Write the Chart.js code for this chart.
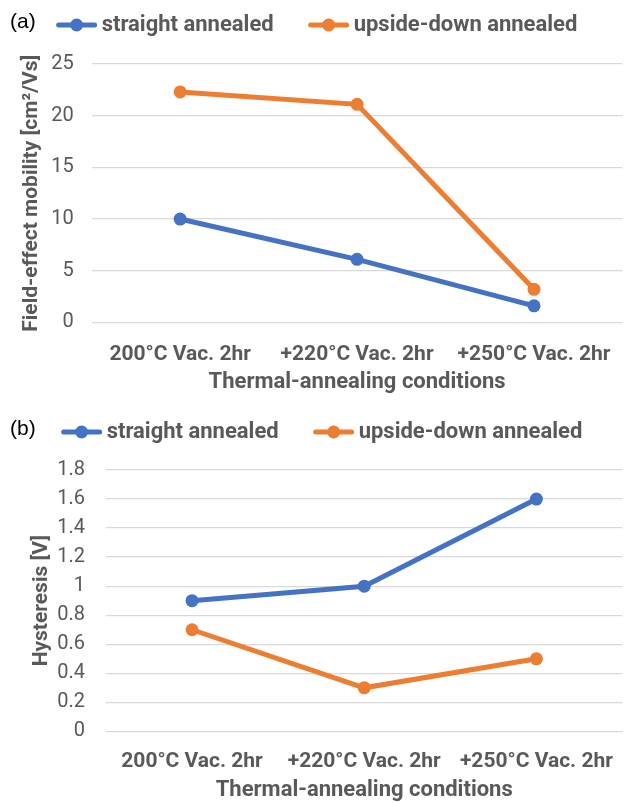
<!DOCTYPE html>
<html>
<head>
<meta charset="utf-8">
<script src="https://cdn.jsdelivr.net/npm/chart.js@4/dist/chart.umd.min.js"></script>
<style>
  html, body { margin: 0; padding: 0; background: #fff; }
  body { width: 629px; height: 803px; position: relative; overflow: hidden; }
  .box { position: absolute; left: 0; width: 629px; }
  .tag { position: absolute; left: 10px; font: 21px "Liberation Sans", Arial, sans-serif; color: #000; }
</style>
</head>
<body>
<div class="box" style="top:0; height:402px;"><canvas id="chartA"></canvas></div>
<div class="box" style="top:402px; height:401px;"><canvas id="chartB"></canvas></div>
<div class="tag" style="top:9px;">(a)</div>
<div class="tag" style="top:416px;">(b)</div>
<script>
// categories shared by both panels
const conditions = ["200°C Vac. 2hr", "+220°C Vac. 2hr", "+250°C Vac. 2hr"];
const seriesNames = ["straight annealed", "upside-down annealed"];

// (a) field-effect mobility [cm2/Vs]
const mobilityStraight = [10.0, 6.1, 1.6];
const mobilityUpside = [22.3, 21.1, 3.2];

// (b) hysteresis [V]
const hysteresisStraight = [0.9, 1.0, 1.6];
const hysteresisUpside = [0.7, 0.3, 0.5];

const BLUE = "#4472C4";
const ORANGE = "#ED7D31";
const GREY = "#595959";
const GRID = "#D9D9D9";
const FONT = "Roboto, 'Liberation Sans', sans-serif";

// excel-style legend marker: short thick line with a dot in the middle
const legendMarks = {
  id: "legendMarks",
  afterDraw(chart) {
    const lg = chart.legend;
    if (!lg || !lg.legendHitBoxes) return;
    const ctx = chart.ctx;
    lg.legendHitBoxes.forEach((hb, i) => {
      const col = chart.data.datasets[i].borderColor;
      const y = hb.top + hb.height / 2;
      ctx.save();
      ctx.strokeStyle = col;
      ctx.fillStyle = col;
      ctx.lineWidth = 5;
      ctx.lineCap = "round";
      ctx.beginPath();
      ctx.moveTo(hb.left + 2, y);
      ctx.lineTo(hb.left + 38, y);
      ctx.stroke();
      ctx.beginPath();
      ctx.arc(hb.left + 20, y, 6.5, 0, Math.PI * 2);
      ctx.fill();
      ctx.restore();
    });
  },
};

function makeChart(id, straight, upside, yTitle, yMax, step, o) {
  new Chart(document.getElementById(id), {
    type: "line",
    data: {
      labels: conditions,
      datasets: [
        { label: seriesNames[0], data: straight, borderColor: BLUE, backgroundColor: BLUE },
        { label: seriesNames[1], data: upside, borderColor: ORANGE, backgroundColor: ORANGE },
      ],
    },
    options: {
      responsive: true,
      maintainAspectRatio: false,
      animation: false,
      layout: { padding: o.pad },
      elements: {
        line: { borderWidth: 5, tension: 0 },
        point: { radius: 6.5, hoverRadius: 6.5, borderWidth: 0 },
      },
      plugins: {
        tooltip: { enabled: false },
        legend: {
          position: "top",
          weight: 3000,
          labels: {
            boxWidth: 34,
            boxHeight: 5,
            padding: 35,
            color: GREY,
            font: { family: FONT, size: 22, weight: "bold" },
            generateLabels: (chart) =>
              Chart.defaults.plugins.legend.labels.generateLabels(chart).map((it) => ({
                ...it,
                fillStyle: "rgba(0,0,0,0)",
                strokeStyle: "rgba(0,0,0,0)",
                lineWidth: 0,
              })),
          },
        },
        // empty title used only as a gap between legend and plot
        title: {
          display: true,
          text: "",
          weight: 500,
          font: { size: 1, lineHeight: 1 },
          padding: { top: 0, bottom: o.gap },
        },
      },
      scales: {
        x: {
          offset: true,
          grid: { display: false },
          border: { display: false },
          ticks: {
            color: GREY,
            maxRotation: 0,
            autoSkip: false,
            padding: o.xTickPad,
            font: { family: FONT, size: 21, weight: "bold" },
          },
          title: {
            display: true,
            text: "Thermal-annealing conditions",
            color: GREY,
            padding: { top: o.xTitlePad, bottom: 0 },
            font: { family: FONT, size: 22, weight: "bold" },
          },
        },
        y: {
          min: 0,
          max: yMax,
          grid: { color: GRID, lineWidth: 1.3, drawTicks: false },
          border: { display: false },
          ticks: {
            stepSize: step,
            color: GREY,
            padding: o.yTickPad,
            font: { family: FONT, size: 20 },
            callback: (v) => String(Math.round(v * 10) / 10),
          },
          title: {
            display: true,
            text: yTitle,
            color: GREY,
            padding: o.yTitlePad,
            font: { family: FONT, size: 21, weight: "bold" },
          },
        },
      },
    },
    plugins: [legendMarks],
  });
}

makeChart("chartA", mobilityStraight, mobilityUpside, "Field-effect mobility [cm²/Vs]", 25, 5, {
  pad: { top: -21, right: 3, left: 8, bottom: 6 },
  gap: 17, xTickPad: 12, xTitlePad: -10, yTickPad: 18, yTitlePad: { top: 11, bottom: -11 },
});
makeChart("chartB", hysteresisStraight, hysteresisUpside, "Hysteresis [V]", 1.8, 0.2, {
  pad: { top: -16, right: 2, left: 17, bottom: -1 },
  gap: 16, xTickPad: 10, xTitlePad: -7, yTickPad: 21, yTitlePad: { top: 12, bottom: -18 },
});
</script>
</body>
</html>
